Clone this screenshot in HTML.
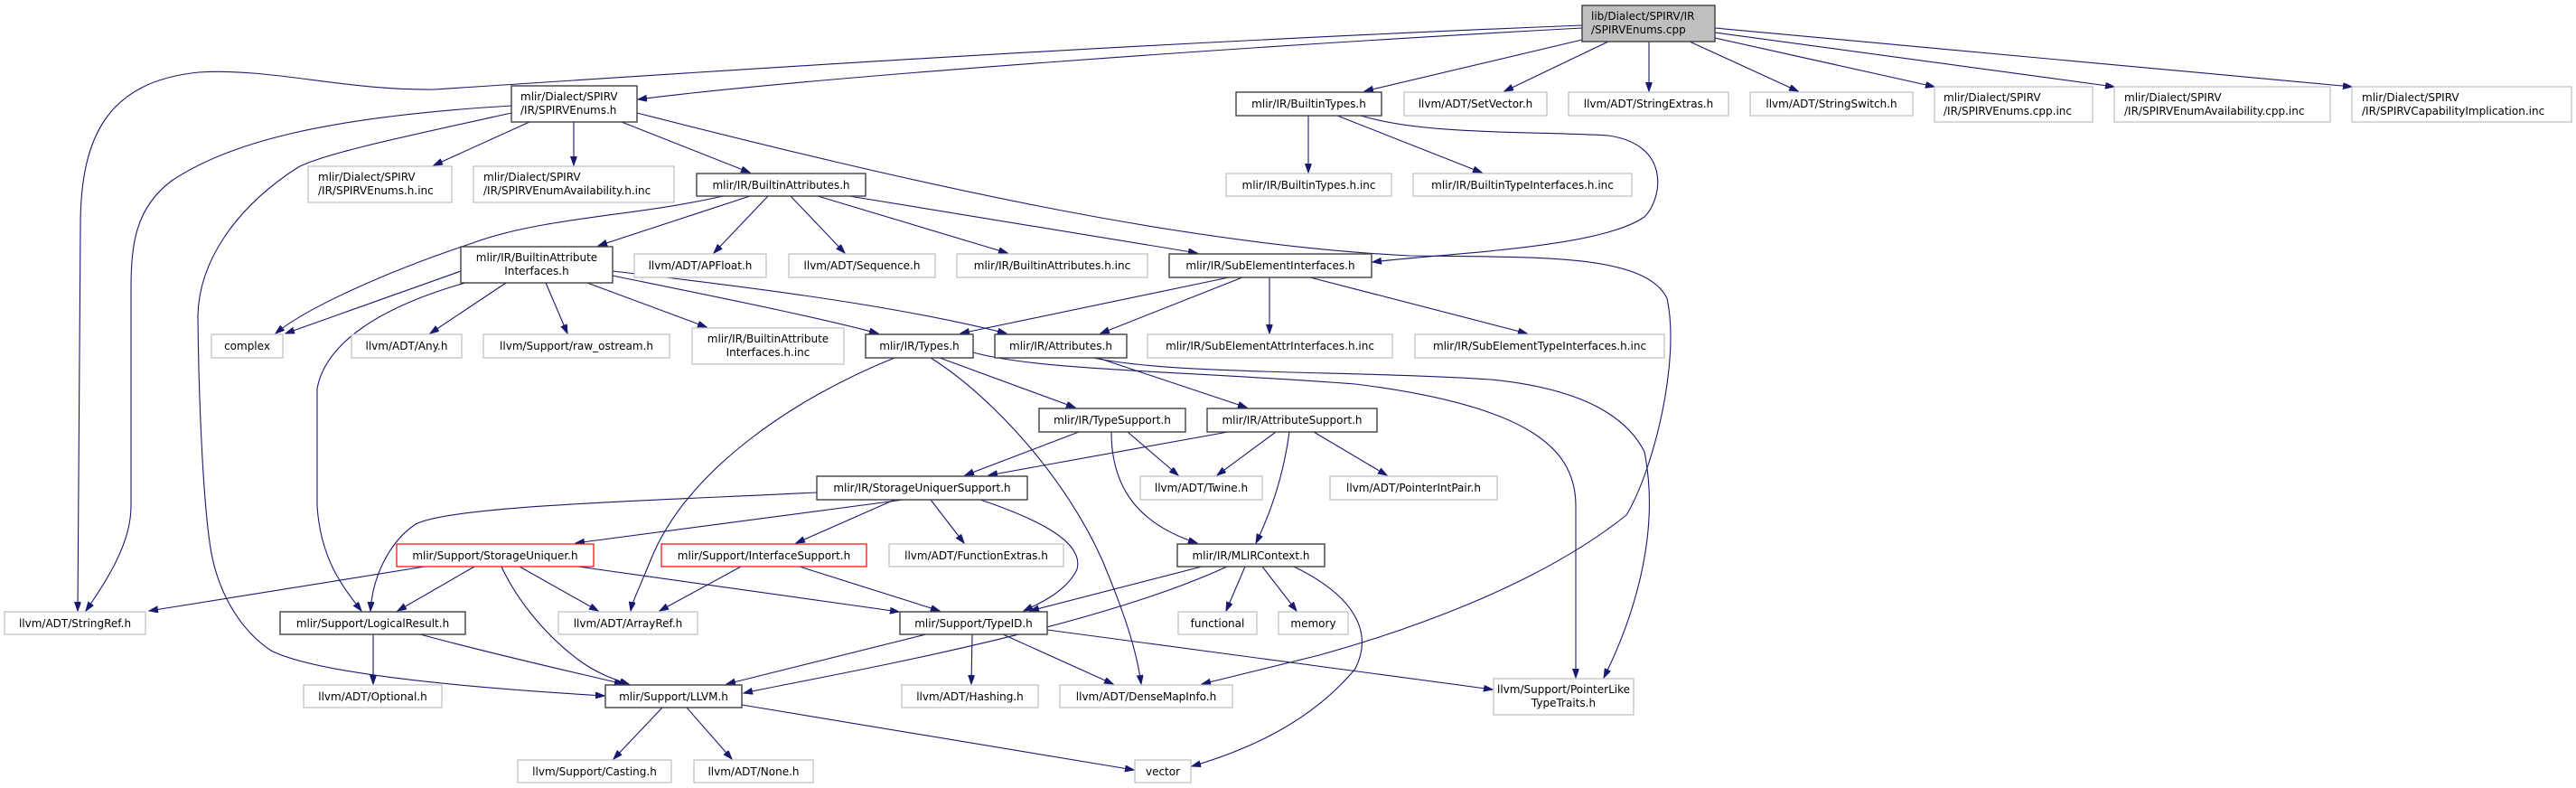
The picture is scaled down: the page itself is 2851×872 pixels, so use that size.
<!DOCTYPE html>
<html><head><meta charset="utf-8"><style>
html,body{margin:0;padding:0;background:#fff;}
svg{display:block;}
text{font-family:"DejaVu Sans","Liberation Sans",sans-serif;font-size:12px;fill:#000;}
.b{fill:#fff;stroke:#404040;stroke-width:1.4;}
.g{fill:#fff;stroke:#bfbfbf;stroke-width:1.2;}
.r{fill:#fff;stroke:#ff0000;stroke-width:1.2;}
.rt{fill:#bfbfbf;stroke:#404040;stroke-width:1.4;}
path.e{fill:none;stroke:#191970;stroke-width:1.1;marker-end:url(#a);}
</style></head><body>
<svg width="2851" height="872" viewBox="0 0 2851 872" xmlns="http://www.w3.org/2000/svg">
<defs><marker id="a" markerUnits="userSpaceOnUse" markerWidth="11" markerHeight="8" refX="10" refY="3.5" orient="auto"><path d="M0,0 L10,3.5 L0,7 z" fill="#191970" stroke="#191970"/></marker></defs>

<!-- edges -->
<path class="e" d="M1751,31 C1400,50 900,85 706,110"/>
<path class="e" d="M1751,28 C1200,50 700,85 480,99 C380,100 300,75 220,80 C120,90 89,150 89,250 L86,676"/>
<path class="e" d="M566,117 C350,130 250,160 190,200 C150,230 145,270 145,320 L145,560 C145,600 120,640 95,676"/>
<path class="e" d="M566,125 C430,155 360,170 330,185 C260,230 220,290 219,350 C220,450 225,550 232,600 C240,660 270,700 300,720 C350,745 500,760 669,770"/>
<path class="e" d="M586,135 L480,183"/>
<path class="e" d="M635,135 L635,183"/>
<path class="e" d="M688,135 L830,191"/>
<path class="e" d="M705,125 C1000,200 1300,270 1560,283 C1700,285 1820,280 1845,330 C1860,400 1830,520 1800,570 C1700,650 1550,700 1460,725 C1400,740 1360,750 1330,757"/>
<path class="e" d="M1751,44 L1510,101"/>
<path class="e" d="M1780,46 L1665,101"/>
<path class="e" d="M1825,46 L1825,101"/>
<path class="e" d="M1870,46 L1990,101"/>
<path class="e" d="M1898,42 L2141,96"/>
<path class="e" d="M1898,36 L2340,96"/>
<path class="e" d="M1898,31 L2603,96"/>
<path class="e" d="M1448,128 L1448,191"/>
<path class="e" d="M1480,128 L1640,191"/>
<path class="e" d="M1506,128 C1580,150 1700,145 1780,150 C1850,160 1840,220 1820,240 C1770,275 1600,280 1519,290"/>
<path class="e" d="M800,217 C700,240 600,240 520,270 C430,300 340,340 305,369"/>
<path class="e" d="M830,217 L662,272"/>
<path class="e" d="M850,217 L790,280"/>
<path class="e" d="M875,217 L935,280"/>
<path class="e" d="M905,217 L1115,280"/>
<path class="e" d="M940,217 L1325,280"/>
<path class="e" d="M510,300 L316,369"/>
<path class="e" d="M560,313 L476,369"/>
<path class="e" d="M604,313 L628,369"/>
<path class="e" d="M650,313 L782,362"/>
<path class="e" d="M678,305 C800,330 900,350 972,369"/>
<path class="e" d="M678,300 C850,320 1000,340 1114,369"/>
<path class="e" d="M515,313 C420,340 360,380 351,430 L351,560 C355,620 380,650 400,676"/>
<path class="e" d="M1360,307 L1063,369"/>
<path class="e" d="M1375,307 L1218,369"/>
<path class="e" d="M1405,307 L1405,369"/>
<path class="e" d="M1450,307 L1690,369"/>
<path class="e" d="M1040,396 L1190,451"/>
<path class="e" d="M990,396 C880,440 760,520 720,620 C708,650 700,665 698,676"/>
<path class="e" d="M1030,396 C1100,440 1180,530 1220,620 C1245,680 1258,720 1263,757"/>
<path class="e" d="M1077,390 C1150,410 1300,410 1500,425 C1700,450 1744,500 1744,560 L1744,750"/>
<path class="e" d="M1210,396 C1300,415 1500,410 1650,420 C1750,430 1800,460 1820,500 C1840,600 1800,700 1775,750"/>
<path class="e" d="M1215,396 L1380,451"/>
<path class="e" d="M1194,478 L1068,526"/>
<path class="e" d="M1359,478 L1094,526"/>
<path class="e" d="M1248,478 L1304,526"/>
<path class="e" d="M1230,478 C1230,540 1260,580 1325,601"/>
<path class="e" d="M1412,478 L1347,526"/>
<path class="e" d="M1427,478 C1420,530 1405,570 1390,601"/>
<path class="e" d="M1454,478 L1535,526"/>
<path class="e" d="M1000,553 L637,601"/>
<path class="e" d="M990,553 L881,601"/>
<path class="e" d="M1030,553 L1067,601"/>
<path class="e" d="M1085,553 C1150,575 1200,600 1192,630 C1180,655 1150,668 1133,676"/>
<path class="e" d="M904,545 C700,555 500,560 460,580 C430,600 412,640 410,676"/>
<path class="e" d="M470,627 L165,676"/>
<path class="e" d="M525,627 L440,676"/>
<path class="e" d="M575,627 L662,676"/>
<path class="e" d="M555,627 C570,660 600,700 640,730 C660,745 680,752 696,757"/>
<path class="e" d="M640,627 L995,677"/>
<path class="e" d="M820,627 L730,676"/>
<path class="e" d="M885,627 L1040,676"/>
<path class="e" d="M1378,627 L1357,676"/>
<path class="e" d="M1397,627 L1435,676"/>
<path class="e" d="M1330,627 L1140,676"/>
<path class="e" d="M1358,627 C1200,700 900,750 823,767"/>
<path class="e" d="M1432,627 C1500,660 1520,700 1500,740 C1450,800 1380,830 1319,848"/>
<path class="e" d="M1025,702 L804,757"/>
<path class="e" d="M1076,702 L1075,757"/>
<path class="e" d="M1110,702 L1232,757"/>
<path class="e" d="M1159,697 L1652,763"/>
<path class="e" d="M413,702 L413,757"/>
<path class="e" d="M465,702 C550,725 640,745 690,757"/>
<path class="e" d="M733,783 L679,840"/>
<path class="e" d="M760,783 L810,840"/>
<path class="e" d="M821,780 L1255,852"/>

<!-- nodes -->
<rect class="rt" x="1751" y="6" width="147" height="40"/>
<text x="1761" y="22">lib/Dialect/SPIRV/IR</text><text x="1761" y="37">/SPIRVEnums.cpp</text>

<rect class="b" x="566" y="95" width="139" height="40"/>
<text x="576" y="111">mlir/Dialect/SPIRV</text><text x="576" y="126">/IR/SPIRVEnums.h</text>

<rect class="b" x="1368" y="102" width="161" height="26"/><text x="1448.5" y="119" text-anchor="middle">mlir/IR/BuiltinTypes.h</text>
<rect class="g" x="1554" y="102" width="158" height="26"/><text x="1633" y="119" text-anchor="middle">llvm/ADT/SetVector.h</text>
<rect class="g" x="1736" y="102" width="177" height="26"/><text x="1824.5" y="119" text-anchor="middle">llvm/ADT/StringExtras.h</text>
<rect class="g" x="1937" y="102" width="180" height="26"/><text x="2027" y="119" text-anchor="middle">llvm/ADT/StringSwitch.h</text>

<rect class="g" x="2141" y="96" width="175" height="39"/>
<text x="2151" y="112">mlir/Dialect/SPIRV</text><text x="2151" y="127">/IR/SPIRVEnums.cpp.inc</text>
<rect class="g" x="2340" y="96" width="239" height="39"/>
<text x="2351" y="112">mlir/Dialect/SPIRV</text><text x="2351" y="127">/IR/SPIRVEnumAvailability.cpp.inc</text>
<rect class="g" x="2603" y="96" width="243" height="39"/>
<text x="2614" y="112">mlir/Dialect/SPIRV</text><text x="2614" y="127">/IR/SPIRVCapabilityImplication.inc</text>

<rect class="g" x="341" y="184" width="159" height="40"/>
<text x="352" y="200">mlir/Dialect/SPIRV</text><text x="352" y="215">/IR/SPIRVEnums.h.inc</text>
<rect class="g" x="524" y="184" width="222" height="40"/>
<text x="535" y="200">mlir/Dialect/SPIRV</text><text x="535" y="215">/IR/SPIRVEnumAvailability.h.inc</text>

<rect class="b" x="771" y="192" width="187" height="25"/><text x="864.5" y="209" text-anchor="middle">mlir/IR/BuiltinAttributes.h</text>
<rect class="g" x="1357" y="192" width="183" height="25"/><text x="1448.5" y="209" text-anchor="middle">mlir/IR/BuiltinTypes.h.inc</text>
<rect class="g" x="1564" y="192" width="242" height="25"/><text x="1685" y="209" text-anchor="middle">mlir/IR/BuiltinTypeInterfaces.h.inc</text>

<rect class="b" x="510" y="273" width="168" height="40"/>
<text x="594" y="289" text-anchor="middle">mlir/IR/BuiltinAttribute</text><text x="594" y="304" text-anchor="middle">Interfaces.h</text>
<rect class="g" x="702" y="281" width="146" height="26"/><text x="775" y="298" text-anchor="middle">llvm/ADT/APFloat.h</text>
<rect class="g" x="873" y="281" width="162" height="26"/><text x="954" y="298" text-anchor="middle">llvm/ADT/Sequence.h</text>
<rect class="g" x="1059" y="281" width="211" height="26"/><text x="1164.5" y="298" text-anchor="middle">mlir/IR/BuiltinAttributes.h.inc</text>
<rect class="b" x="1294" y="281" width="224" height="26"/><text x="1406" y="298" text-anchor="middle">mlir/IR/SubElementInterfaces.h</text>

<rect class="g" x="234" y="370" width="79" height="26"/><text x="273.5" y="387" text-anchor="middle">complex</text>
<rect class="g" x="389" y="370" width="122" height="26"/><text x="450" y="387" text-anchor="middle">llvm/ADT/Any.h</text>
<rect class="g" x="535" y="370" width="206" height="26"/><text x="638" y="387" text-anchor="middle">llvm/Support/raw_ostream.h</text>
<rect class="g" x="766" y="363" width="168" height="40"/>
<text x="850" y="379" text-anchor="middle">mlir/IR/BuiltinAttribute</text><text x="850" y="394" text-anchor="middle">Interfaces.h.inc</text>
<rect class="b" x="958" y="370" width="119" height="26"/><text x="1017.5" y="387" text-anchor="middle">mlir/IR/Types.h</text>
<rect class="b" x="1101" y="370" width="146" height="26"/><text x="1174" y="387" text-anchor="middle">mlir/IR/Attributes.h</text>
<rect class="g" x="1270" y="370" width="271" height="26"/><text x="1405.5" y="387" text-anchor="middle">mlir/IR/SubElementAttrInterfaces.h.inc</text>
<rect class="g" x="1566" y="370" width="276" height="26"/><text x="1704" y="387" text-anchor="middle">mlir/IR/SubElementTypeInterfaces.h.inc</text>

<rect class="b" x="1150" y="452" width="162" height="26"/><text x="1231" y="469" text-anchor="middle">mlir/IR/TypeSupport.h</text>
<rect class="b" x="1336" y="452" width="188" height="26"/><text x="1430" y="469" text-anchor="middle">mlir/IR/AttributeSupport.h</text>

<rect class="b" x="904" y="527" width="233" height="26"/><text x="1020.5" y="544" text-anchor="middle">mlir/IR/StorageUniquerSupport.h</text>
<rect class="g" x="1262" y="527" width="135" height="26"/><text x="1329.5" y="544" text-anchor="middle">llvm/ADT/Twine.h</text>
<rect class="g" x="1472" y="527" width="185" height="26"/><text x="1564.5" y="544" text-anchor="middle">llvm/ADT/PointerIntPair.h</text>

<rect class="r" x="439" y="602" width="218" height="25"/><text x="548" y="619" text-anchor="middle">mlir/Support/StorageUniquer.h</text>
<rect class="r" x="732" y="602" width="227" height="25"/><text x="845.5" y="619" text-anchor="middle">mlir/Support/InterfaceSupport.h</text>
<rect class="g" x="984" y="602" width="193" height="25"/><text x="1080.5" y="619" text-anchor="middle">llvm/ADT/FunctionExtras.h</text>
<rect class="b" x="1303" y="602" width="163" height="25"/><text x="1384.5" y="619" text-anchor="middle">mlir/IR/MLIRContext.h</text>

<rect class="g" x="5" y="677" width="156" height="25"/><text x="83" y="694" text-anchor="middle">llvm/ADT/StringRef.h</text>
<rect class="b" x="310" y="677" width="205" height="25"/><text x="412.5" y="694" text-anchor="middle">mlir/Support/LogicalResult.h</text>
<rect class="g" x="618" y="677" width="154" height="25"/><text x="695" y="694" text-anchor="middle">llvm/ADT/ArrayRef.h</text>
<rect class="b" x="996" y="677" width="163" height="25"/><text x="1077.5" y="694" text-anchor="middle">mlir/Support/TypeID.h</text>
<rect class="g" x="1304" y="677" width="87" height="25"/><text x="1347.5" y="694" text-anchor="middle">functional</text>
<rect class="g" x="1415" y="677" width="77" height="25"/><text x="1453.5" y="694" text-anchor="middle">memory</text>

<rect class="g" x="336" y="758" width="153" height="25"/><text x="412.5" y="775" text-anchor="middle">llvm/ADT/Optional.h</text>
<rect class="b" x="670" y="758" width="151" height="25"/><text x="745.5" y="775" text-anchor="middle">mlir/Support/LLVM.h</text>
<rect class="g" x="998" y="758" width="151" height="25"/><text x="1073.5" y="775" text-anchor="middle">llvm/ADT/Hashing.h</text>
<rect class="g" x="1173" y="758" width="191" height="25"/><text x="1268.5" y="775" text-anchor="middle">llvm/ADT/DenseMapInfo.h</text>
<rect class="g" x="1653" y="751" width="155" height="40"/>
<text x="1730.5" y="767" text-anchor="middle">llvm/Support/PointerLike</text><text x="1730.5" y="782" text-anchor="middle">TypeTraits.h</text>

<rect class="g" x="573" y="841" width="170" height="25"/><text x="658" y="858" text-anchor="middle">llvm/Support/Casting.h</text>
<rect class="g" x="768" y="841" width="132" height="25"/><text x="834" y="858" text-anchor="middle">llvm/ADT/None.h</text>
<rect class="g" x="1256" y="841" width="62" height="25"/><text x="1287" y="858" text-anchor="middle">vector</text>
</svg>
</body></html>
